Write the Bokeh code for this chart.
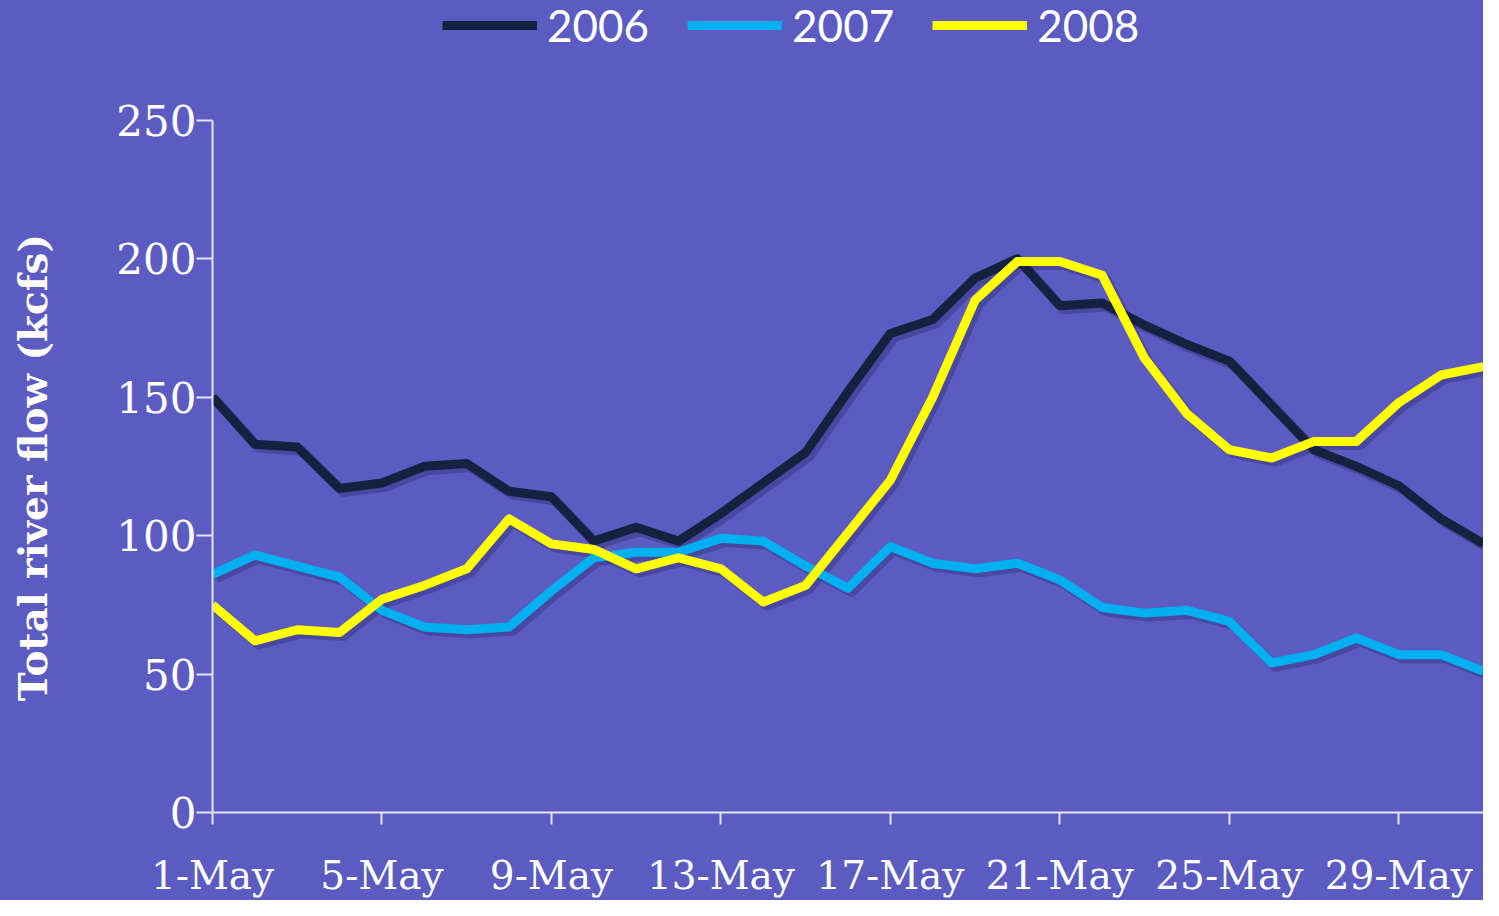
from bokeh.plotting import figure
from bokeh.models import Range1d, FixedTicker, Legend, LegendItem, ColumnDataSource
from bokeh.transform import dodge
from bokeh.embed import file_html
from bokeh.resources import INLINE

days = list(range(1, 32))
tick_days = [1, 5, 9, 13, 17, 21, 25, 29]
tick_labels = ["1-May", "5-May", "9-May", "13-May", "17-May", "21-May", "25-May", "29-May"]
y_ticks = [0, 50, 100, 150, 200, 250]

flow_2006 = [150, 133, 132, 117, 119, 125, 126, 116, 114, 98, 103, 98, 108, 119, 130, 152,
             173, 178, 193, 200, 183, 184, 176, 169, 163, 147, 131, 125, 118, 106, 97]
flow_2007 = [86, 93, 89, 85, 73, 67, 66, 67, 80, 92, 94, 94, 99, 98, 89, 81,
             96, 90, 88, 90, 84, 74, 72, 73, 69, 54, 57, 63, 57, 57, 51]
flow_2008 = [75, 62, 66, 65, 77, 82, 88, 106, 97, 95, 88, 92, 88, 76, 82, 101,
             120, 150, 185, 199, 199, 194, 164, 144, 131, 128, 134, 134, 148, 158, 161]

series = [("2006", flow_2006, "#15213f"),
          ("2007", flow_2007, "#00b0f0"),
          ("2008", flow_2008, "#ffff00")]

BG = "#5b5bc1"
AXC = "#e4e4f4"

W, H = 1483, 900
BOTTOM = 86
AXIS_TOP_GAP = 120          # room above the 250 tick, where the legend sits
Y_MAX = 250
y_top = Y_MAX * (H - BOTTOM) / (H - BOTTOM - AXIS_TOP_GAP)

p = figure(width=W, height=H, output_backend="svg", toolbar_location=None, title=None,
           x_range=Range1d(1, 31), y_range=Range1d(0, y_top),
           min_border_left=212, min_border_right=0, min_border_top=0, min_border_bottom=BOTTOM)
p.styles = {"background-color": BG}
p.background_fill_color = BG
p.border_fill_color = BG
p.outline_line_color = None
p.xgrid.grid_line_color = None
p.ygrid.grid_line_color = None

items = []
for name, vals, col in series:
    src = ColumnDataSource(dict(x=days, y=vals))
    p.line(x=dodge("x", 0.09, range=p.x_range), y=dodge("y", -1.3, range=p.y_range), source=src,
           line_width=10, line_color="#1a1a50", line_alpha=0.28, line_join="round")
for name, vals, col in series:
    src = ColumnDataSource(dict(x=days, y=vals))
    r = p.line(x="x", y="y", source=src, line_width=9, line_color=col, line_join="round")
    items.append(LegendItem(label=name, renderers=[r]))

legend = Legend(items=items, orientation="horizontal", location=(230, H - BOTTOM - 54),
                background_fill_alpha=0, border_line_color=None,
                label_text_color="white", label_text_font="Lato", label_text_font_size="44px",
                glyph_width=95, glyph_height=54, label_height=54, label_standoff=10,
                spacing=38, padding=0, margin=0)
p.add_layout(legend)

xa = p.xaxis[0]
xa.ticker = FixedTicker(ticks=tick_days)
xa.major_label_overrides = {d: t for d, t in zip(tick_days, tick_labels)}
xa.major_label_text_font = "DejaVu Serif"
xa.major_label_text_font_size = "39px"
xa.major_label_text_color = "white"
xa.major_label_standoff = 28
xa.axis_line_color = AXC
xa.axis_line_width = 2
xa.major_tick_line_color = AXC
xa.major_tick_line_width = 2
xa.major_tick_in = 0
xa.major_tick_out = 12
xa.minor_tick_line_color = None

ya = p.yaxis[0]
ya.ticker = FixedTicker(ticks=y_ticks)
ya.bounds = (0, Y_MAX)
ya.major_label_text_font = "DejaVu Serif"
ya.major_label_text_font_size = "42px"
ya.major_label_text_color = "white"
ya.major_label_standoff = 0
ya.axis_line_color = AXC
ya.axis_line_width = 2
ya.major_tick_line_color = AXC
ya.major_tick_line_width = 2
ya.major_tick_in = 0
ya.major_tick_out = 16
ya.minor_tick_line_color = None
# trailing non-breaking spaces shift the centred title down to the middle of the 0-250 axis
ya.axis_label = "Total river flow (kcfs)" + "\u00a0" * 9
ya.axis_label_text_font = "DejaVu Serif"
ya.axis_label_text_font_style = "bold"
ya.axis_label_text_font_size = "39px"
ya.axis_label_text_color = "white"
ya.axis_label_standoff = 57

open("out.html", "w").write(file_html(p, INLINE))
